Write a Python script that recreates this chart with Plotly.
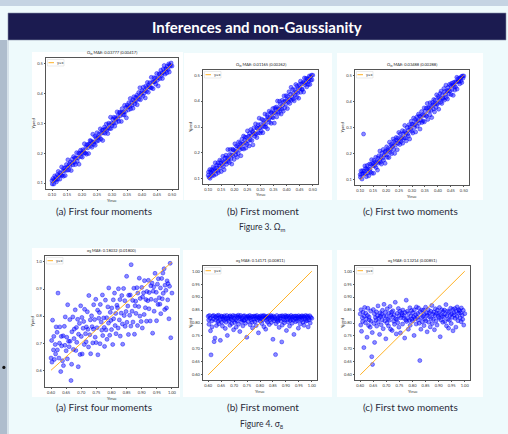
import numpy as np
import plotly.graph_objects as go

W, H = 508, 434

# ---------------------------------------------------------------- data
# True values of the test set (thousandths); shared by the three models.
OM_TRUE = [
    100, 101, 103, 106, 107, 109, 112, 113, 115, 118,
    119, 121, 124, 126, 127, 130, 132, 133, 136, 138,
    139, 142, 144, 145, 148, 150, 152, 153, 156, 158,
    160, 161, 164, 167, 168, 170, 172, 175, 176, 178,
    181, 182, 184, 187, 189, 190, 193, 195, 196, 199,
    201, 202, 205, 207, 208, 211, 213, 215, 216, 219,
    221, 222, 225, 227, 229, 230, 233, 235, 236, 239,
    241, 243, 244, 247, 249, 250, 253, 255, 257, 258,
    261, 263, 264, 267, 269, 271, 272, 275, 277, 278,
    281, 283, 285, 286, 289, 291, 292, 295, 297, 299,
    300, 303, 305, 306, 309, 311, 313, 314, 317, 319,
    320, 323, 325, 327, 328, 331, 333, 334, 337, 339,
    341, 342, 345, 347, 348, 351, 353, 355, 356, 359,
    361, 362, 365, 367, 369, 370, 373, 375, 376, 379,
    381, 383, 384, 387, 389, 390, 393, 395, 397, 398,
    401, 403, 404, 407, 409, 411, 412, 415, 417, 418,
    421, 423, 425, 426, 429, 431, 432, 435, 437, 439,
    440, 443, 445, 446, 449, 451, 453, 454, 457, 459,
    460, 463, 465, 467, 468, 471, 473, 474, 477, 479,
    481, 483, 484, 487, 489, 491, 492, 495, 497, 500,
]

OM_PRED_FOUR = [
    108, 97, 115, 97, 110, 124, 110, 119, 104, 128,
    113, 139, 125, 113, 134, 127, 154, 125, 140, 123,
    150, 141, 125, 151, 162, 143, 154, 178, 144, 163,
    157, 170, 142, 180, 168, 161, 189, 170, 184, 162,
    185, 202, 173, 185, 201, 163, 199, 210, 189, 200,
    187, 212, 208, 201, 232, 201, 220, 197, 229, 218,
    230, 199, 230, 243, 225, 241, 220, 237, 264, 231,
    239, 257, 227, 253, 240, 269, 253, 243, 265, 253,
    282, 248, 267, 277, 243, 278, 269, 288, 267, 282,
    298, 277, 284, 266, 301, 296, 283, 321, 283, 301,
    293, 314, 301, 321, 291, 319, 314, 303, 339, 316,
    326, 307, 338, 326, 337, 307, 337, 350, 329, 339,
    329, 361, 340, 354, 319, 362, 356, 346, 370, 357,
    384, 349, 370, 361, 379, 351, 390, 375, 366, 387,
    377, 395, 363, 390, 404, 382, 420, 380, 403, 397,
    410, 392, 422, 402, 411, 386, 425, 408, 421, 438,
    405, 430, 423, 437, 420, 455, 420, 440, 417, 440,
    454, 440, 453, 432, 468, 445, 453, 426, 467, 465,
    451, 479, 461, 470, 451, 483, 472, 495, 466, 484,
    483, 470, 493, 481, 500, 473, 496, 493, 503, 493,
]

OM_PRED_FIRST = [
    114, 126, 106, 136, 102, 127, 121, 135, 113, 130,
    146, 113, 140, 131, 162, 118, 142, 153, 132, 162,
    124, 150, 172, 142, 161, 128, 171, 155, 187, 148,
    166, 135, 181, 166, 191, 156, 181, 213, 169, 178,
    163, 194, 213, 178, 193, 157, 214, 190, 211, 175,
    209, 235, 193, 205, 227, 183, 224, 198, 242, 222,
    213, 238, 189, 234, 253, 217, 234, 265, 215, 249,
    261, 239, 219, 260, 233, 285, 247, 264, 227, 275,
    250, 290, 266, 248, 283, 231, 280, 297, 274, 264,
    312, 274, 297, 259, 294, 309, 277, 334, 296, 277,
    310, 285, 330, 301, 278, 326, 316, 302, 350, 311,
    300, 329, 346, 293, 339, 328, 361, 318, 337, 356,
    314, 355, 338, 371, 336, 355, 315, 374, 354, 368,
    377, 339, 400, 358, 371, 353, 399, 370, 388, 350,
    368, 403, 383, 361, 397, 420, 374, 400, 389, 421,
    405, 371, 418, 397, 436, 407, 391, 426, 453, 403,
    415, 445, 407, 429, 401, 444, 423, 464, 435, 415,
    458, 432, 451, 411, 464, 448, 477, 434, 466, 447,
    444, 473, 435, 471, 489, 463, 472, 488, 455, 486,
    484, 464, 477, 497, 464, 493, 480, 500, 482, 500,
]

OM_PRED_TWO = [
    120, 110, 134, 121, 103, 135, 124, 275, 133, 153,
    124, 143, 112, 140, 155, 127, 142, 115, 160, 140,
    130, 159, 177, 125, 154, 162, 125, 174, 154, 167,
    186, 147, 167, 137, 183, 164, 192, 174, 210, 167,
    188, 160, 202, 183, 216, 175, 195, 208, 163, 209,
    195, 226, 186, 212, 220, 185, 244, 205, 216, 235,
    200, 230, 227, 256, 216, 247, 201, 241, 232, 262,
    252, 215, 259, 240, 281, 248, 235, 275, 261, 246,
    258, 288, 240, 276, 259, 285, 308, 260, 278, 249,
    300, 275, 289, 267, 311, 256, 302, 293, 324, 286,
    313, 279, 312, 336, 300, 310, 331, 283, 323, 340,
    305, 326, 351, 316, 344, 294, 342, 329, 361, 319,
    349, 325, 346, 375, 322, 363, 347, 374, 343, 392,
    331, 376, 363, 377, 348, 395, 365, 380, 338, 396,
    387, 371, 407, 360, 391, 405, 377, 425, 393, 389,
    419, 370, 413, 406, 430, 397, 439, 392, 424, 412,
    411, 449, 405, 438, 426, 462, 415, 439, 409, 453,
    442, 428, 465, 440, 460, 426, 469, 445, 462, 423,
    472, 459, 443, 475, 455, 474, 492, 447, 486, 477,
    476, 489, 467, 488, 479, 495, 472, 497, 489, 497,
]

S8_TRUE = [
    600, 602, 603, 605, 608, 609, 611, 614, 615, 617,
    620, 621, 623, 626, 628, 629, 632, 634, 635, 638,
    640, 641, 644, 646, 647, 650, 652, 654, 655, 658,
    660, 662, 663, 666, 668, 669, 672, 674, 676, 677,
    680, 682, 684, 685, 688, 690, 691, 694, 696, 698,
    700, 702, 703, 706, 708, 710, 711, 714, 716, 717,
    720, 722, 724, 725, 728, 730, 731, 734, 736, 738,
    740, 741, 744, 746, 748, 749, 752, 754, 755, 758,
    760, 762, 763, 766, 768, 770, 771, 774, 776, 777,
    780, 782, 784, 785, 788, 790, 791, 794, 796, 798,
    800, 801, 804, 806, 807, 810, 812, 814, 815, 818,
    820, 822, 823, 826, 828, 829, 832, 834, 836, 837,
    840, 842, 844, 845, 848, 850, 851, 854, 856, 857,
    860, 862, 864, 865, 868, 870, 871, 874, 876, 878,
    880, 881, 884, 886, 887, 890, 892, 894, 895, 898,
    900, 902, 903, 906, 908, 909, 912, 914, 916, 917,
    920, 922, 924, 925, 928, 930, 931, 934, 936, 938,
    940, 941, 944, 946, 948, 949, 952, 954, 955, 958,
    960, 962, 963, 966, 968, 970, 971, 974, 976, 977,
    980, 982, 984, 986, 987, 990, 992, 994, 996, 1000,
]

S8_PRED_FOUR = [
    645, 710, 630, 785, 675, 725, 640, 695, 660, 760,
    740, 675, 885, 645, 700, 760, 595, 725, 690, 635,
    727, 617, 762, 692, 797, 672, 722, 642, 842, 707,
    687, 787, 707, 562, 622, 742, 797, 677, 717, 752,
    823, 673, 758, 703, 788, 613, 733, 773, 658, 838,
    725, 795, 660, 755, 780, 695, 825, 735, 705, 760,
    816, 751, 686, 876, 731, 786, 661, 801, 761, 701,
    752, 842, 787, 722, 862, 702, 757, 822, 657, 792,
    813, 698, 843, 778, 748, 878, 728, 793, 758, 688,
    859, 749, 794, 714, 834, 774, 904, 729, 814, 784,
    750, 830, 695, 860, 790, 885, 765, 810, 735, 840,
    831, 756, 901, 786, 861, 726, 811, 876, 771, 696,
    902, 802, 857, 762, 817, 947, 777, 837, 732, 877,
    803, 878, 763, 990, 818, 858, 778, 903, 733, 838,
    855, 810, 905, 765, 885, 835, 940, 800, 865, 780,
    906, 756, 871, 886, 806, 931, 831, 861, 781, 891,
    857, 932, 827, 887, 782, 912, 862, 922, 737, 892,
    908, 818, 958, 858, 888, 783, 918, 843, 938, 868,
    844, 904, 809, 939, 864, 959, 884, 975, 824, 914,
    895, 830, 930, 860, 920, 790, 910, 995, 720, 885,
]

S8_PRED_FIRST = [
    826, 812, 795, 829, 818, 770, 677, 808, 785, 827,
    815, 829, 728, 742, 824, 811, 790, 828, 819, 806,
    830, 797, 821, 813, 733, 827, 804, 825, 788, 816,
    822, 810, 828, 779, 817, 803, 829, 752, 820, 814,
    807, 825, 791, 828, 815, 823, 798, 811, 829, 774,
    819, 802, 827, 812, 784, 826, 808, 821, 830, 795,
    824, 767, 816, 829, 805, 820, 813, 789, 827, 810,
    811, 828, 799, 822, 817, 745, 826, 806, 824, 818,
    829, 793, 820, 812, 826, 803, 781, 823, 815, 827,
    805, 826, 817, 790, 829, 811, 822, 762, 818, 825,
    821, 808, 828, 815, 798, 826, 812, 829, 786, 819,
    827, 776, 822, 810, 825, 803, 817, 828, 794, 820,
    813, 829, 802, 824, 818, 737, 827, 809, 823, 816,
    678, 797, 814, 829, 806, 821, 812, 783, 826, 818,
    808, 827, 727, 792, 828, 815, 823, 801, 811, 829,
    822, 771, 826, 813, 804, 827, 819, 788, 824, 810,
    829, 815, 799, 823, 811, 826, 756, 818, 827, 805,
    817, 826, 809, 821, 780, 828, 814, 823, 796, 825,
    812, 828, 819, 803, 826, 791, 822, 815, 829, 807,
    824, 810, 827, 785, 820, 813, 828, 800, 822, 818,
]

S8_PRED_TWO = [
    835, 792, 851, 768, 820, 806, 842, 705, 826, 860,
    801, 838, 815, 745, 829, 857, 790, 823, 812, 784,
    846, 807, 670, 763, 640, 852, 798, 836, 725, 821,
    811, 843, 788, 828, 866, 804, 819, 756, 839, 825,
    793, 834, 812, 849, 778, 826, 872, 808, 841, 739,
    825, 800, 855, 816, 789, 838, 811, 864, 776, 830,
    842, 771, 823, 847, 807, 831, 795, 880, 816, 758,
    814, 837, 801, 856, 784, 828, 845, 762, 820, 839,
    832, 796, 850, 819, 828, 742, 841, 812, 888, 806,
    845, 818, 776, 836, 810, 859, 791, 827, 848, 815,
    808, 840, 824, 752, 851, 817, 832, 796, 862, 822,
    837, 812, 858, 799, 655, 843, 776, 821, 850, 805,
    826, 849, 790, 833, 815, 861, 808, 838, 766, 829,
    852, 803, 839, 824, 785, 845, 817, 868, 798, 834,
    815, 842, 774, 829, 855, 808, 837, 792, 849, 824,
    838, 819, 860, 747, 833, 812, 851, 826, 803, 844,
    823, 850, 806, 835, 871, 789, 829, 846, 815, 780,
    843, 811, 829, 857, 798, 836, 822, 853, 770, 840,
    831, 856, 818, 784, 845, 825, 862, 809, 838, 851,
    847, 820, 839, 805, 858, 830, 814, 849, 792, 836,
]

OM_MAE = ["0.03777 (0.00417)", "0.01165 (0.00262)", "0.03488 (0.00288)"]
S8_MAE = ["0.18032 (0.01800)", "0.14171 (0.00811)", "0.13214 (0.00851)"]

CAPTIONS = ["(a) First four moments", "(b) First moment", "(c) First two moments"]
FIG_CAPTIONS = ["Figure 3. Ω<sub>m</sub>", "Figure 4. σ<sub>8</sub>"]
SLIDE_TITLE = "Inferences and non-Gaussianity"

OM_XTICKS = [0.10, 0.15, 0.20, 0.25, 0.30, 0.35, 0.40, 0.45, 0.50]
OM_YTICKS = [0.1, 0.2, 0.3, 0.4, 0.5]
S8_XTICKS = [0.60, 0.65, 0.70, 0.75, 0.80, 0.85, 0.90, 0.95, 1.00]
S8_YTICKS_COARSE = [0.6, 0.7, 0.8, 0.9, 1.0]
S8_YTICKS_FINE = [0.60, 0.65, 0.70, 0.75, 0.80, 0.85, 0.90, 0.95, 1.00]

# ---------------------------------------------------------------- layout helpers
FONT = "Lato, 'DejaVu Sans', sans-serif"
BLUE_FILL = "rgba(0,0,255,0.45)"
BLUE_EDGE = "rgba(0,0,255,0.85)"
ORANGE = "rgba(255,165,0,0.85)"
TINY = 4


def fx(px):
    return px / W


def fy(py):
    return 1 - py / H


om_x = np.array(OM_TRUE) / 1000
s8_x = np.array(S8_TRUE) / 1000

# (frame box l,t,r,b), (white card l,t,r,b), x, y, param, mae, ticks, yfmt, ranges
panels = [
    ((46, 58, 178, 189), (32, 52, 183, 200), om_x, np.array(OM_PRED_FOUR) / 1000,
     "Ω<sub>m</sub>", OM_MAE[0], OM_XTICKS, OM_YTICKS, "{:.1f}", (0.08, 0.52), (0.08, 0.52)),
    ((203, 70, 318, 184), (184, 53, 332, 200), om_x, np.array(OM_PRED_FIRST) / 1000,
     "Ω<sub>m</sub>", OM_MAE[1], OM_XTICKS, OM_YTICKS, "{:.1f}", (0.08, 0.52), (0.08, 0.52)),
    ((355, 70, 469, 185), (337, 53, 483, 200), om_x, np.array(OM_PRED_TWO) / 1000,
     "Ω<sub>m</sub>", OM_MAE[2], OM_XTICKS, OM_YTICKS, "{:.1f}", (0.08, 0.52), (0.08, 0.52)),
    ((45, 256, 178, 387), (32, 248, 180, 397), s8_x, np.array(S8_PRED_FOUR) / 1000,
     "σ<sub>8</sub>", S8_MAE[0], S8_XTICKS, S8_YTICKS_COARSE, "{:.1f}", (0.58, 1.02), (0.538, 1.022)),
    ((203, 266, 317, 380), (183, 250, 332, 397), s8_x, np.array(S8_PRED_FIRST) / 1000,
     "σ<sub>8</sub>", S8_MAE[1], S8_XTICKS, S8_YTICKS_FINE, "{:.2f}", (0.58, 1.02), (0.58, 1.02)),
    ((355, 266, 470, 380), (337, 250, 483, 397), s8_x, np.array(S8_PRED_TWO) / 1000,
     "σ<sub>8</sub>", S8_MAE[2], S8_XTICKS, S8_YTICKS_FINE, "{:.2f}", (0.58, 1.02), (0.58, 1.02)),
]

fig = go.Figure()
shapes = []
annotations = []
layout_axes = {}

# slide chrome
shapes.append(dict(type="rect", xref="paper", yref="paper", x0=0, x1=1, y0=fy(6), y1=1,
                   line_width=0, fillcolor="#c5d4e3", layer="below"))
shapes.append(dict(type="rect", xref="paper", yref="paper", x0=0, x1=fx(7), y0=0, y1=fy(40),
                   line_width=0, fillcolor="#aebdcd", layer="below"))
shapes.append(dict(type="rect", xref="paper", yref="paper", x0=fx(7), x1=fx(9), y0=0, y1=fy(40),
                   line_width=0, fillcolor="#d6e2ea", layer="below"))
shapes.append(dict(type="rect", xref="paper", yref="paper", x0=fx(8), x1=fx(506), y0=fy(40), y1=fy(13),
                   line=dict(color="#8890a8", width=0.6), fillcolor="#1b1b50", layer="below"))
annotations.append(dict(text="<b>" + SLIDE_TITLE + "</b>", x=fx(257), y=fy(27), xref="paper", yref="paper",
                        showarrow=False, xanchor="center", yanchor="middle",
                        font=dict(family=FONT, size=15, color="white")))
shapes.append(dict(type="circle", xref="paper", yref="paper", x0=fx(2.3), x1=fx(5.5), y0=fy(369), y1=fy(365.8),
                   line_width=0, fillcolor="#111111", layer="above"))

for i, (frame, card, xs, ys, param, mae, xt, yt, yfmt, xr, yr) in enumerate(panels):
    n = "" if i == 0 else str(i + 1)
    l, t, r, b = frame
    cl, ct, cr, cb = card
    shapes.append(dict(type="rect", xref="paper", yref="paper", x0=fx(cl), x1=fx(cr), y0=fy(cb), y1=fy(ct),
                       line_width=0, fillcolor="white", layer="below"))

    fig.add_trace(go.Scatter(
        x=xs, y=ys, mode="markers", xaxis="x" + n, yaxis="y" + n,
        marker=dict(size=4, color=BLUE_FILL, line=dict(color=BLUE_EDGE, width=0.5)),
        hoverinfo="skip"))
    lo, hi = float(xs.min()), float(xs.max())
    fig.add_trace(go.Scatter(
        x=[lo, hi], y=[lo, hi], mode="lines", xaxis="x" + n, yaxis="y" + n,
        line=dict(color=ORANGE, width=1), hoverinfo="skip"))

    axis_common = dict(showline=True, mirror=True, linecolor="#555555", linewidth=0.6,
                       ticks="outside", ticklen=1.5, tickwidth=0.5, tickcolor="#555555",
                       showgrid=False, zeroline=False,
                       tickfont=dict(family=FONT, size=TINY, color="#333333"))
    layout_axes["xaxis" + n] = dict(domain=[fx(l), fx(r)], range=list(xr), anchor="y" + n,
                                    tickvals=xt, ticktext=["{:.2f}".format(v) for v in xt], **axis_common)
    layout_axes["yaxis" + n] = dict(domain=[fy(b), fy(t)], range=list(yr), anchor="x" + n,
                                    tickvals=yt, ticktext=[yfmt.format(v) for v in yt], **axis_common)

    # panel title and axis labels
    annotations.append(dict(text=param + " MAE: " + mae, x=fx((l + r) / 2), y=fy(t - 0.5),
                            xref="paper", yref="paper", showarrow=False, xanchor="center", yanchor="bottom",
                            font=dict(family=FONT, size=TINY, color="#222222")))
    annotations.append(dict(text="Ytrue", x=fx((l + r) / 2), y=fy(b + 6.5), xref="paper", yref="paper",
                            showarrow=False, xanchor="center", yanchor="top",
                            font=dict(family=FONT, size=TINY, color="#333333")))
    annotations.append(dict(text="Ypred", x=fx(l - 13), y=fy((t + b) / 2), xref="paper", yref="paper",
                            showarrow=False, xanchor="center", yanchor="middle", textangle=-90,
                            font=dict(family=FONT, size=TINY, color="#333333")))

    # legend box with the y=x entry
    shapes.append(dict(type="rect", xref="paper", yref="paper", x0=fx(l + 1.5), x1=fx(l + 18),
                       y0=fy(t + 8), y1=fy(t + 1.5), line=dict(color="#cccccc", width=0.4),
                       fillcolor="white", layer="above"))
    shapes.append(dict(type="line", xref="paper", yref="paper", x0=fx(l + 2.5), x1=fx(l + 8),
                       y0=fy(t + 4.7), y1=fy(t + 4.7), line=dict(color=ORANGE, width=1), layer="above"))
    annotations.append(dict(text="y=x", x=fx(l + 9), y=fy(t + 4.7), xref="paper", yref="paper",
                            showarrow=False, xanchor="left", yanchor="middle",
                            font=dict(family=FONT, size=TINY, color="#333333")))

# sub-captions and figure captions
cap_x = [104, 263, 410]
for cx, cap in zip(cap_x, CAPTIONS):
    for cy in (211, 407):
        annotations.append(dict(text=cap, x=fx(cx), y=fy(cy), xref="paper", yref="paper",
                                showarrow=False, xanchor="center", yanchor="middle",
                                font=dict(family=FONT, size=10, color="#2a2a3a")))
annotations.append(dict(text=FIG_CAPTIONS[0], x=fx(262), y=fy(228), xref="paper", yref="paper",
                        showarrow=False, xanchor="center", yanchor="middle",
                        font=dict(family=FONT, size=8.5, color="#2a2a3a")))
annotations.append(dict(text=FIG_CAPTIONS[1], x=fx(262), y=fy(424), xref="paper", yref="paper",
                        showarrow=False, xanchor="center", yanchor="middle",
                        font=dict(family=FONT, size=8.5, color="#2a2a3a")))

fig.update_layout(
    width=W, height=H, margin=dict(l=0, r=0, t=0, b=0),
    paper_bgcolor="#eefafc", plot_bgcolor="white", showlegend=False,
    shapes=shapes, annotations=annotations, **layout_axes)

fig.write_html("out.html", config={"displayModeBar": False})
